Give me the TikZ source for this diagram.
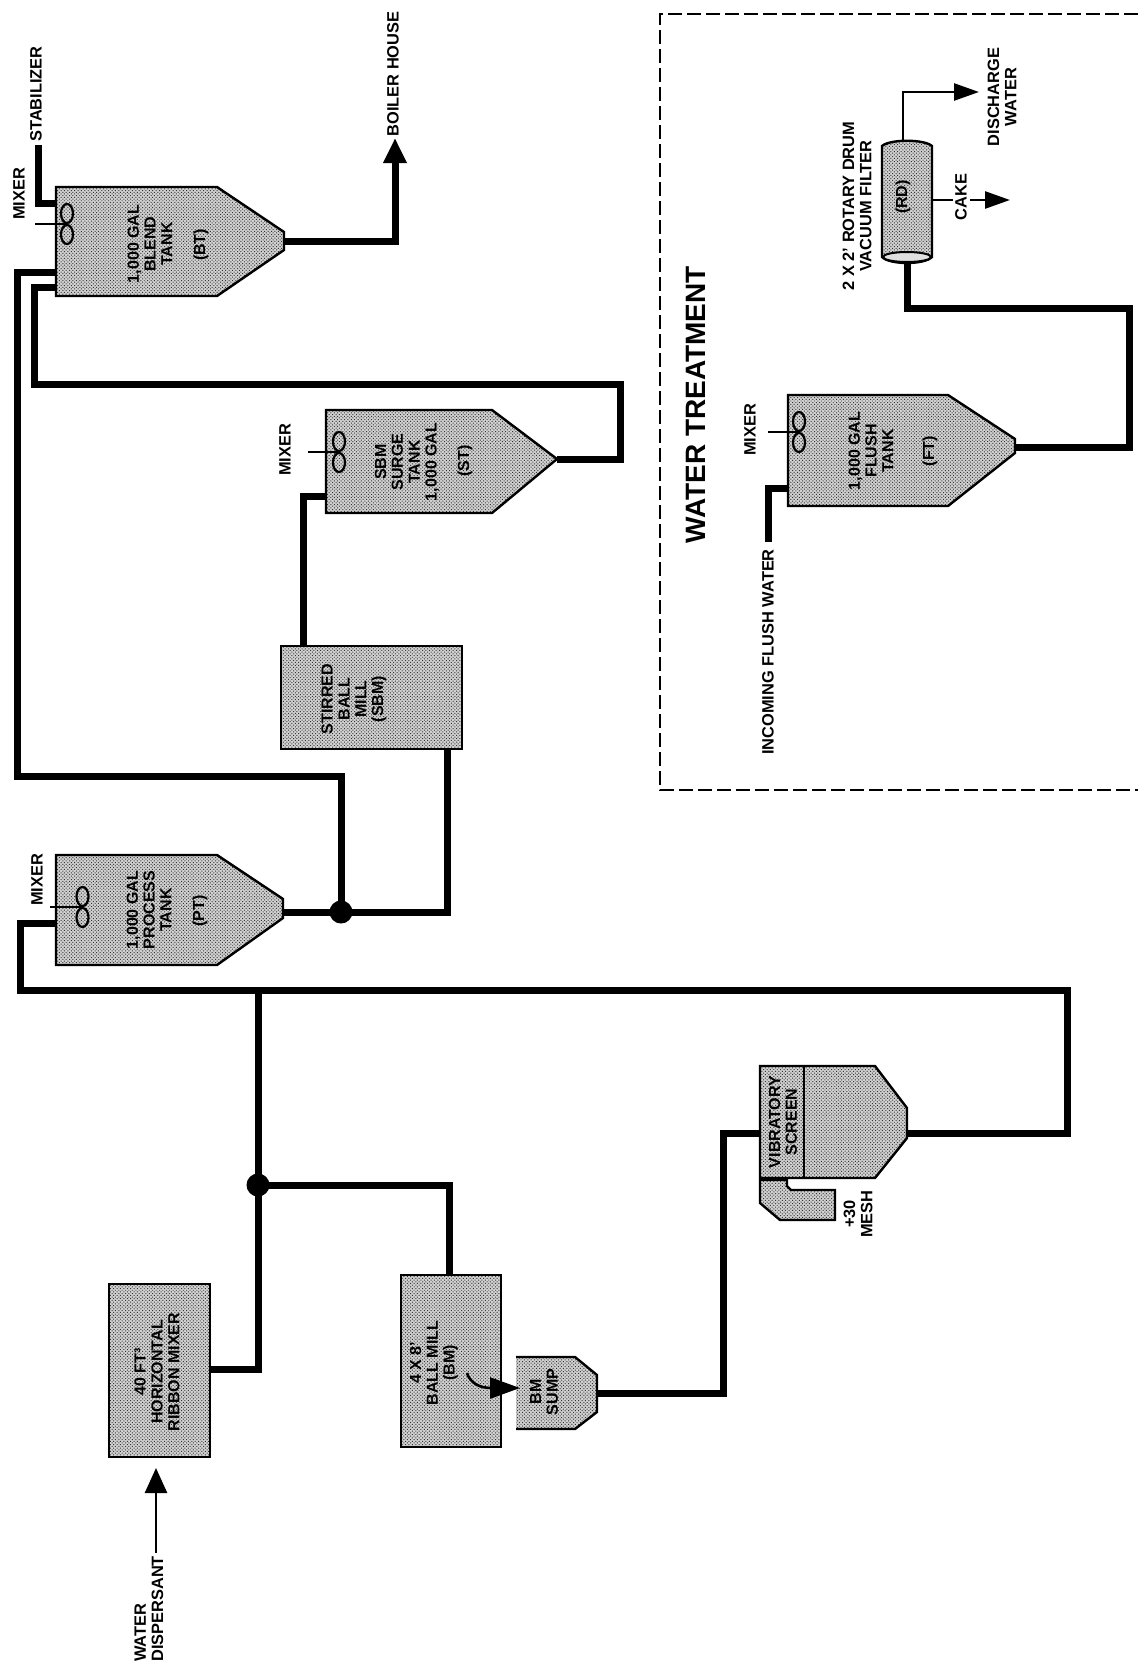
\documentclass[tikz,border=0pt]{standalone}
\usepackage{fontspec}
\setmainfont{Liberation Sans}
\usetikzlibrary{arrows.meta,patterns.meta}
\definecolor{stip}{gray}{0.82}
\tikzset{
  vesselfill/.style={preaction={fill=stip},pattern={Dots[distance=2.4pt,radius=0.7pt,angle=45]},pattern color=black!80},
  vessel/.style={draw=black,line width=2.4pt,vesselfill,line join=miter},
  pipe/.style={draw=black,line width=7pt,line join=miter,line cap=butt},
  thinpipe/.style={draw=black,line width=2.6pt,line join=miter},
  headA/.style={-{Triangle[length=25pt,width=22pt]}},
  headB/.style={-{Triangle[length=25pt,width=17pt]}},
  junct/.style={circle,fill=black,inner sep=0pt,minimum size=23pt},
  lab/.style={rotate=90,align=center,inner sep=0pt,font=\bfseries\fontsize{16.4}{17.2}\selectfont},
  tanklab/.style={lab,font=\bfseries\fontsize{16}{16.8}\selectfont},
  mixerblade/.style={draw=black,line width=2.2pt},
  shaft/.style={draw=black,line width=1.9pt},
  boundary/.style={draw=black,line width=2.2pt,dash pattern=on 14pt off 5pt},
}
\newcommand{\tankmixer}[3]{% pinch x, y, shaft start x
  \draw[mixerblade] (#1,#2-10.5) ellipse [x radius=6,y radius=9.5];
  \draw[mixerblade] (#1,#2+10.5) ellipse [x radius=6,y radius=9.5];
  \draw[shaft] (#3,#2) -- (#1,#2);
}
\begin{document}
\begin{tikzpicture}[x=1pt,y=-1pt]
\useasboundingbox (0,0) rectangle (1138,1667);
\fill[white] (0,0) rectangle (1138,1667);

% ---------- free ends and ports
\coordinate (stabEnd) at (38,145);
\coordinate (btIn1) at (56,203);
\coordinate (btIn2) at (56,272);
\coordinate (btIn3) at (56,287);
\coordinate (btOut) at (284,241);
\coordinate (boiler) at (395,138);
\coordinate (stOut) at (557,459);
\coordinate (stIn) at (326,496);
\coordinate (sbmTop) at (303,646);
\coordinate (sbmBot) at (447,749);
\coordinate (ptOut) at (283,912);
\coordinate (ptIn) at (56,923);
\coordinate (hrOut) at (210,1369);
\coordinate (bmTop) at (449,1275);
\coordinate (sumpOut) at (597,1393);
\coordinate (vsIn) at (760,1133);
\coordinate (vsOut) at (907,1133);
\coordinate (ftOut) at (1015,447);
\coordinate (ftIn) at (788,488);
\coordinate (flushEnd) at (768,542);
\coordinate (rdBot) at (907,261);
\coordinate (rdTop) at (903,141);
\coordinate (disch) at (979,92);
\coordinate (rdSide) at (932,200);
\coordinate (cakeA) at (953,200);
\coordinate (cakeB) at (970,200);
\coordinate (cakeTip) at (1010,200);
\coordinate (wdStart) at (156,1553);
\coordinate (wdTip) at (156,1468);
\coordinate (bmCurve) at (467,1373);
\coordinate (sumpTip) at (520,1388);

% ---------- vessels
\draw[vessel] (56,187) -- (217,187) -- (284,232) -- (284,250) -- (217,296) -- (56,296) -- cycle;
\draw[vessel] (326,410) -- (492,410) -- (557,459) -- (492,513) -- (326,513) -- cycle;
\draw[vessel] (281,646) rectangle (462,749);
\draw[vessel] (56,855) -- (217,855) -- (283,899) -- (283,918) -- (217,965) -- (56,965) -- cycle;
\draw[vessel] (109,1284) rectangle (210,1457);
\draw[vessel] (401,1275) rectangle (501,1447);
\path[vesselfill] (516,1357) -- (575,1357) -- (597,1375) -- (597,1412) -- (575,1429) -- (516,1429) -- cycle;
\draw[draw=black,line width=2.4pt] (516,1357) -- (575,1357) -- (597,1375) -- (597,1412) -- (575,1429) -- (516,1429);
\draw[vessel] (760,1066) -- (875,1066) -- (907,1108) -- (907,1138) -- (875,1178) -- (760,1178) -- cycle;
\draw[draw=black,line width=2.4pt] (804,1066) -- (804,1178);
\draw[vessel] (760,1180) -- (787,1180) -- (787,1186) -- (791,1190) -- (835,1190) -- (835,1220) -- (780,1220) -- (760,1203) -- cycle;
\draw[vessel] (788,395) -- (948,395) -- (1015,439) -- (1015,453) -- (948,506) -- (788,506) -- cycle;
% drum
\draw[vessel] (882,146) .. controls (890,139) and (924,139) .. (932,146) -- (932,257) .. controls (924,265) and (890,265) .. (882,257) -- cycle;
\draw[draw=black,line width=2pt,fill=stip!70] (907,257) ellipse [x radius=24,y radius=5];

% ---------- mixers
\tankmixer{67}{224}{35}
\tankmixer{339}{452}{308}
\tankmixer{82.5}{907}{50}
\tankmixer{799}{432}{768}

% ---------- junctions
\node[junct] (j1) at (341,912) {};
\node[junct] (j2) at (258,1185) {};

% ---------- pipes
\draw[pipe] (stabEnd) |- (btIn1);
\draw[pipe] (btIn2) -| (17,776) -| (j1.center);
\draw[pipe] (btIn3) -| (34,384) -| (620,459) -- (stOut);
\draw[pipe,headA] (btOut) -| (boiler);
\draw[pipe] (stIn) -| (sbmTop);
\draw[pipe] (sbmBot) |- (ptOut);
\draw[pipe] (ptIn) -| (20,990) -| (1067,1133) -- (vsOut);
\draw[pipe] (hrOut) -| (258,990);
\draw[pipe] (j2.center) -| (bmTop);
\draw[pipe] (sumpOut) -| (723,1133) -- (vsIn);
\draw[pipe] (ftOut) -| (1129,308) -| (rdBot);
\draw[pipe] (ftIn) -| (flushEnd);

% ---------- thin lines
\draw[thinpipe,headB] (rdTop) |- (disch);
\draw[thinpipe] (rdSide) -- (cakeA);
\draw[thinpipe,headB] (cakeB) -- (cakeTip);
\draw[thinpipe,headA] (wdStart) -- (wdTip);
\draw[thinpipe,-{Triangle[length=30pt,width=21pt]}] (bmCurve) .. controls (470,1383) and (480,1388) .. (sumpTip);

% ---------- treatment boundary
\draw[boundary] (1138,14) -- (660,14) -- (660,790) -- (1138,790);

% ---------- labels
\node[lab] (lStab) at (36,94) {STABILIZER};
\node[lab] (lMixBT) at (19,194) {MIXER};
\node[lab] (lBoil) at (393,74) {BOILER HOUSE};
\node[tanklab] (tBT) at (150,244) {1,000 GAL\\BLEND\\TANK};
\node[tanklab] (idBT) at (201,245) {(BT)};
\node[lab] (lMixST) at (285,450) {MIXER};
\node[tanklab] (tST) at (407,462) {SBM\\SURGE\\TANK\\1,000 GAL};
\node[tanklab] (idST) at (465,461) {(ST)};
\node[tanklab] (tSBM) at (354,699) {STIRRED\\BALL\\MILL\\(SBM)};
\node[lab] (lMixPT) at (37,880) {MIXER};
\node[tanklab] (tPT) at (149,910) {1,000 GAL\\PROCESS\\TANK};
\node[tanklab] (idPT) at (200,911) {(PT)};
\node[tanklab] (tHR) at (157,1372) {40 FT³\\HORIZONTAL\\RIBBON MIXER};
\node[tanklab] (tBM) at (434,1363) {4 X 8'\\BALL MILL\\(BM)};
\node[tanklab] (tSump) at (544,1392) {BM\\SUMP};
\node[tanklab] (tVS) at (783,1122) {VIBRATORY\\SCREEN};
\node[lab] (lMesh) at (858,1214) {+30\\MESH};
\node[lab,anchor=west,align=left] (lWD) at (149,1662) {WATER\\DISPERSANT};
\node[lab,font=\bfseries\fontsize{28}{30}\selectfont] (lWT) at (696,405) {WATER TREATMENT};
\node[lab] (lInc) at (768,652) {INCOMING FLUSH WATER};
\node[lab] (lMixFT) at (750,430) {MIXER};
\node[tanklab] (tFT) at (871,451) {1,000 GAL\\FLUSH\\TANK};
\node[tanklab] (idFT) at (930,451) {(FT)};
\node[tanklab] (idRD) at (903,197) {(RD)};
\node[lab] (lFilt) at (857,206) {2 X 2' ROTARY DRUM\\VACUUM FILTER};
\node[lab] (lCake) at (961,197) {CAKE};
\node[lab] (lDisch) at (1002,97) {DISCHARGE\\WATER};
\end{tikzpicture}
\end{document}
